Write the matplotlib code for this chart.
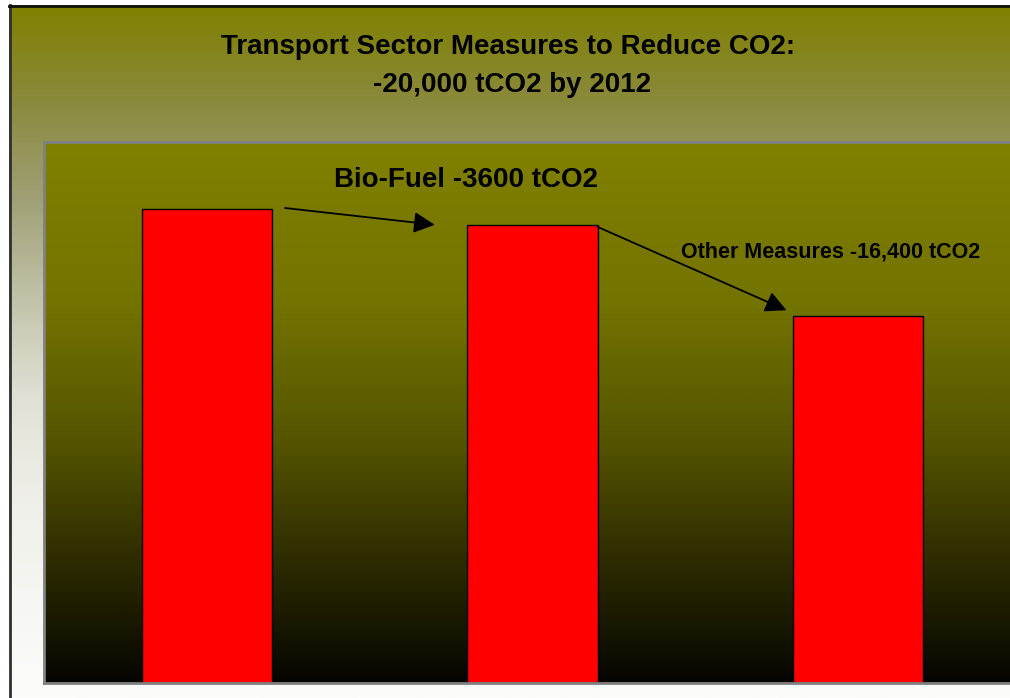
import numpy as np
import matplotlib
matplotlib.use("Agg")
import matplotlib.pyplot as plt
from matplotlib.colors import LinearSegmentedColormap

# Data (relative emission levels)
categories = ["Baseline", "After Bio-Fuel", "After Other Measures"]
values = [87.6, 84.6, 67.8]
title_lines = ["Transport Sector Measures to Reduce CO2:", "-20,000 tCO2 by 2012"]
label_biofuel = "Bio-Fuel -3600 tCO2"
label_other = "Other Measures -16,400 tCO2"

W, H = 1010, 698
fig = plt.figure(figsize=(W / 100, H / 100), dpi=100, facecolor="white")
plt.rcParams['font.family'] = ['Liberation Sans', 'DejaVu Sans']


def c(r, g, b):
    return (r / 255, g / 255, b / 255)


# Figure background gradient (olive top -> white bottom)
bg = fig.add_axes([9 / W, 0, 1 - 9 / W, 1 - 5 / H], zorder=-10)
bg_cmap = LinearSegmentedColormap.from_list("bg", [
    (0, c(128, 128, 0)), (0.14, c(138, 138, 62)), (0.28, c(160, 160, 118)),
    (0.47, c(205, 205, 185)), (0.57, c(225, 225, 214)), (0.72, c(240, 240, 234)),
    (1, c(252, 252, 250))])
grad = np.linspace(0, 1, 512).reshape(-1, 1)
bg.imshow(grad, aspect="auto", cmap=bg_cmap, extent=[0, 1, 0, 1], origin="upper")
bg.set_xlim(0, 1); bg.set_ylim(0, 1)
bg.set_axis_off()
# frame lines (left and top)
fig.add_artist(plt.Line2D([9.5 / W, 9.5 / W], [0, 1 - 5 / H], color="#303030", lw=2))
fig.add_artist(plt.Line2D([9 / W, 1], [1 - 5.5 / H, 1 - 5.5 / H], color="#101010", lw=2))

# Plot area
left, right, top, bottom = 44, 1021, 142, 683
ax = fig.add_axes([left / W, (H - bottom) / H, (right - left) / W, (bottom - top) / H])
ax_cmap = LinearSegmentedColormap.from_list("ax", [
    (0, c(128, 128, 0)), (0.3, c(115, 115, 0)), (0.55, c(85, 85, 0)),
    (0.75, c(50, 48, 0)), (1, c(5, 5, 0))])
ax.imshow(grad, aspect="auto", cmap=ax_cmap, extent=[-0.5, 2.5, 0, 100], origin="upper", zorder=0)

x = np.arange(len(categories))
ax.bar(x, values, width=0.4, color="#ff0000", edgecolor="black", linewidth=1, zorder=2)
ax.set_xlim(-0.5, 2.5)
ax.set_ylim(0, 100)
ax.set_xticks([]); ax.set_yticks([])
for s in ax.spines.values():
    s.set_color("#808080"); s.set_linewidth(2)

# Title
fig.text(508 / W, 1 - 47 / H, title_lines[0], ha="center", va="center", fontsize=20, fontweight="bold")
fig.text(512 / W, 1 - 85 / H, title_lines[1], ha="center", va="center", fontsize=20, fontweight="bold")

# Annotations
ax.text(x[1] - 0.61, values[0] + 5.4, label_biofuel, ha="left", va="center", fontsize=20, fontweight="bold", zorder=3)
ax.text(x[2] - 0.545, values[1] - 4.9, label_other, ha="left", va="center", fontsize=15.5, fontweight="bold", zorder=3)

arrow = dict(arrowstyle="-|>", color="black", lw=1.3, mutation_scale=32, shrinkA=0, shrinkB=0)
ax.annotate("", xy=(x[1] - 0.30, values[1] + 0.1), xytext=(x[0] + 0.24, values[0] + 0.2), arrowprops=arrow, zorder=3)
ax.annotate("", xy=(x[2] - 0.22, values[2] + 1.1), xytext=(x[1] + 0.2, values[1] - 0.3), arrowprops=arrow, zorder=3)

fig.savefig("out.png", dpi=100, facecolor="white")
